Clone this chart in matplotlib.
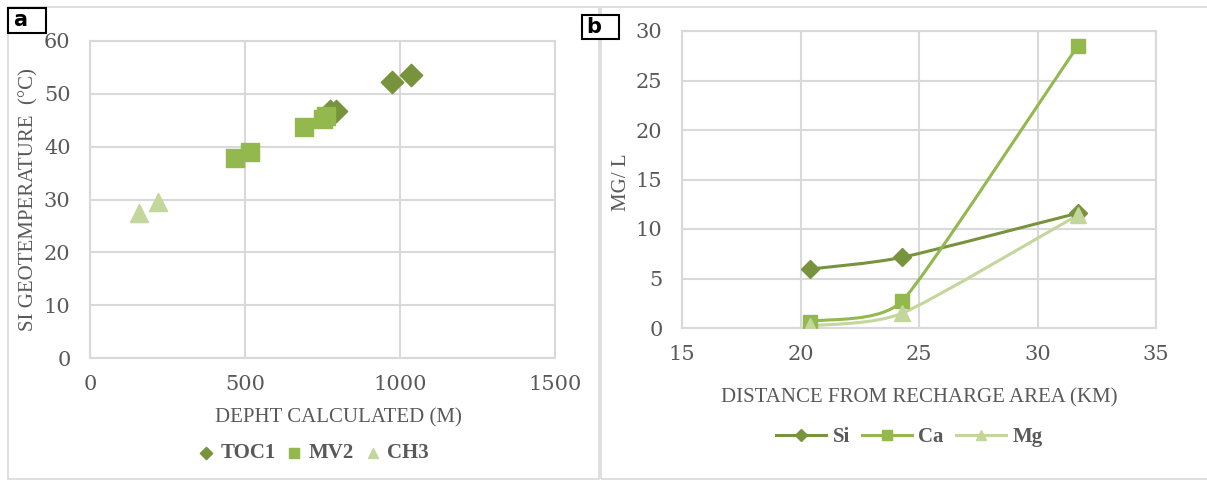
import matplotlib.pyplot as plt
import numpy as np
from matplotlib.path import Path
from matplotlib.patches import PathPatch, Rectangle
from matplotlib.lines import Line2D

# panel a: depth vs Si geotemperature
toc1_depth = [773, 795, 973, 1035]
toc1_temp = [46.7, 46.8, 52.3, 53.6]
mv2_depth = [469, 516, 689, 750, 762]
mv2_temp = [37.8, 39.0, 43.8, 45.3, 45.8]
ch3_depth = [158, 219]
ch3_temp = [27.5, 29.5]

# panel b: distance from recharge area
dist_km = [20.4, 24.3, 31.7]
si_vals = [5.95, 7.15, 11.6]
ca_vals = [0.65, 2.75, 28.5]
mg_vals = [0.2, 1.5, 11.4]

dark = '#77933C'
mid = '#92B84E'
light = '#C3D69B'
grid_c = '#D9D9D9'
txt_c = '#595959'
W, H = 1207, 482


def style(ax):
    ax.grid(True, color=grid_c, linewidth=1.5)
    ax.set_axisbelow(True)
    for s in ax.spines.values():
        s.set_color(grid_c)
        s.set_linewidth(1.5)
    ax.tick_params(length=0, colors=txt_c, labelsize=15)
    ax.tick_params(axis='x', pad=12)
    ax.tick_params(axis='y', pad=14)
    for lab in ax.get_xticklabels() + ax.get_yticklabels():
        lab.set_family('DejaVu Serif')


def smooth(ax, xs, ys):
    # excel-like smoothed line, bezier control points built in screen space
    tr = ax.transData
    p = tr.transform(np.column_stack([xs, ys]))
    n = len(p)
    d = np.diff(p, axis=0)
    L = np.hypot(d[:, 0], d[:, 1])
    hs = []
    for i in range(n):
        a = p[max(i - 1, 0)]
        b = p[min(i + 1, n - 1)]
        h = (b - a) / 6
        if 0 < i < n - 1:
            lim = min(L[i - 1], L[i]) / 3
            hl = np.hypot(*h)
            if hl > lim:
                h = h * lim / hl
        hs.append(h)
    verts = [p[0]]
    codes = [Path.MOVETO]
    for i in range(n - 1):
        verts += [p[i] + hs[i], p[i + 1] - hs[i + 1], p[i + 1]]
        codes += [Path.CURVE4] * 3
    return Path(tr.inverted().transform(np.array(verts)), codes)


fig = plt.figure(figsize=(W / 100, H / 100), dpi=100)

# chart area frames
for x0, x1 in [(8, 599), (601, 1212)]:
    fig.patches.append(Rectangle((x0 / W, 3 / H), (x1 - x0) / W, 472 / H,
                                 transform=fig.transFigure, fill=False,
                                 edgecolor=grid_c, linewidth=1.2))

lab_kw = dict(fontsize=15, color=txt_c, family='Liberation Serif')
leg_prop = dict(family='Liberation Serif', weight='bold', size=15)

# ---- panel a
ax1 = fig.add_axes([90 / W, (H - 358) / H, 465 / W, 317 / H])
ax1.scatter(toc1_depth, toc1_temp, marker='D', s=130, color=dark, label='TOC1', zorder=3)
ax1.scatter(mv2_depth, mv2_temp, marker='s', s=150, color=mid, label='MV2', zorder=3)
ax1.scatter(ch3_depth, ch3_temp, marker='^', s=170, color=light, label='CH3', zorder=3)
ax1.set_xlim(0, 1500)
ax1.set_ylim(0, 60)
ax1.set_xticks([0, 500, 1000, 1500])
ax1.set_yticks(range(0, 61, 10))
style(ax1)
ax1.set_xlabel('DEPHT CALCULATED (M)', **lab_kw)
ax1.xaxis.set_label_coords(0.535, -0.158)
ax1.set_ylabel('SI GEOTEMPERATURE  (°C)', **lab_kw)
ax1.yaxis.set_label_coords(-0.11, 0.5)
leg1 = ax1.legend(loc='center', bbox_to_anchor=(0.48, -0.30), ncol=3, frameon=False,
                  handlelength=0.8, handletextpad=0.3, columnspacing=0.5,
                  markerscale=0.55, prop=leg_prop)
for t in leg1.get_texts():
    t.set_color(txt_c)

# ---- panel b
ax2 = fig.add_axes([682 / W, (H - 328) / H, 474 / W, 297 / H])
ax2.set_xlim(15, 35)
ax2.set_ylim(0, 30)
for vals, col, mk, ms in [(si_vals, dark, 'D', 9), (ca_vals, mid, 's', 10), (mg_vals, light, '^', 11)]:
    ax2.add_patch(PathPatch(smooth(ax2, dist_km, vals), fill=False, edgecolor=col,
                            linewidth=2.2, zorder=3))
    ax2.plot(dist_km, vals, linestyle='none', marker=mk, markersize=ms, color=col, zorder=4)
ax2.set_xticks(range(15, 36, 5))
ax2.set_yticks(range(0, 31, 5))
style(ax2)
ax2.set_xlabel('DISTANCE FROM RECHARGE AREA (KM)', **lab_kw)
ax2.xaxis.set_label_coords(0.5, -0.202)
ax2.set_ylabel('MG/ L', **lab_kw)
ax2.yaxis.set_label_coords(-0.108, 0.49)
handles = [Line2D([], [], color=dark, marker='D', markersize=6, linewidth=2.2),
           Line2D([], [], color=mid, marker='s', markersize=7, linewidth=2.2),
           Line2D([], [], color=light, marker='^', markersize=7, linewidth=2.2)]
leg2 = ax2.legend(handles, ['Si', 'Ca', 'Mg'], loc='center', bbox_to_anchor=(0.48, -0.367),
                  ncol=3, frameon=False, handlelength=2.4, handletextpad=0.3, columnspacing=0.6,
                  prop=leg_prop)
for t in leg2.get_texts():
    t.set_color(txt_c)

# panel letters
for x0, y0, x1, y1, letter in [(8, 8, 46, 33, 'a'), (582, 15, 619, 39, 'b')]:
    fig.patches.append(Rectangle((x0 / W, 1 - y1 / H), (x1 - x0) / W, (y1 - y0) / H,
                                 transform=fig.transFigure, facecolor='white',
                                 edgecolor='black', linewidth=1.5, zorder=5))
    fig.text((x0 + 12) / W, 1 - (y0 + y1) / 2 / H, letter, fontsize=15, fontweight='bold',
             ha='center', va='center', zorder=6)

fig.savefig('out.png', dpi=100)
